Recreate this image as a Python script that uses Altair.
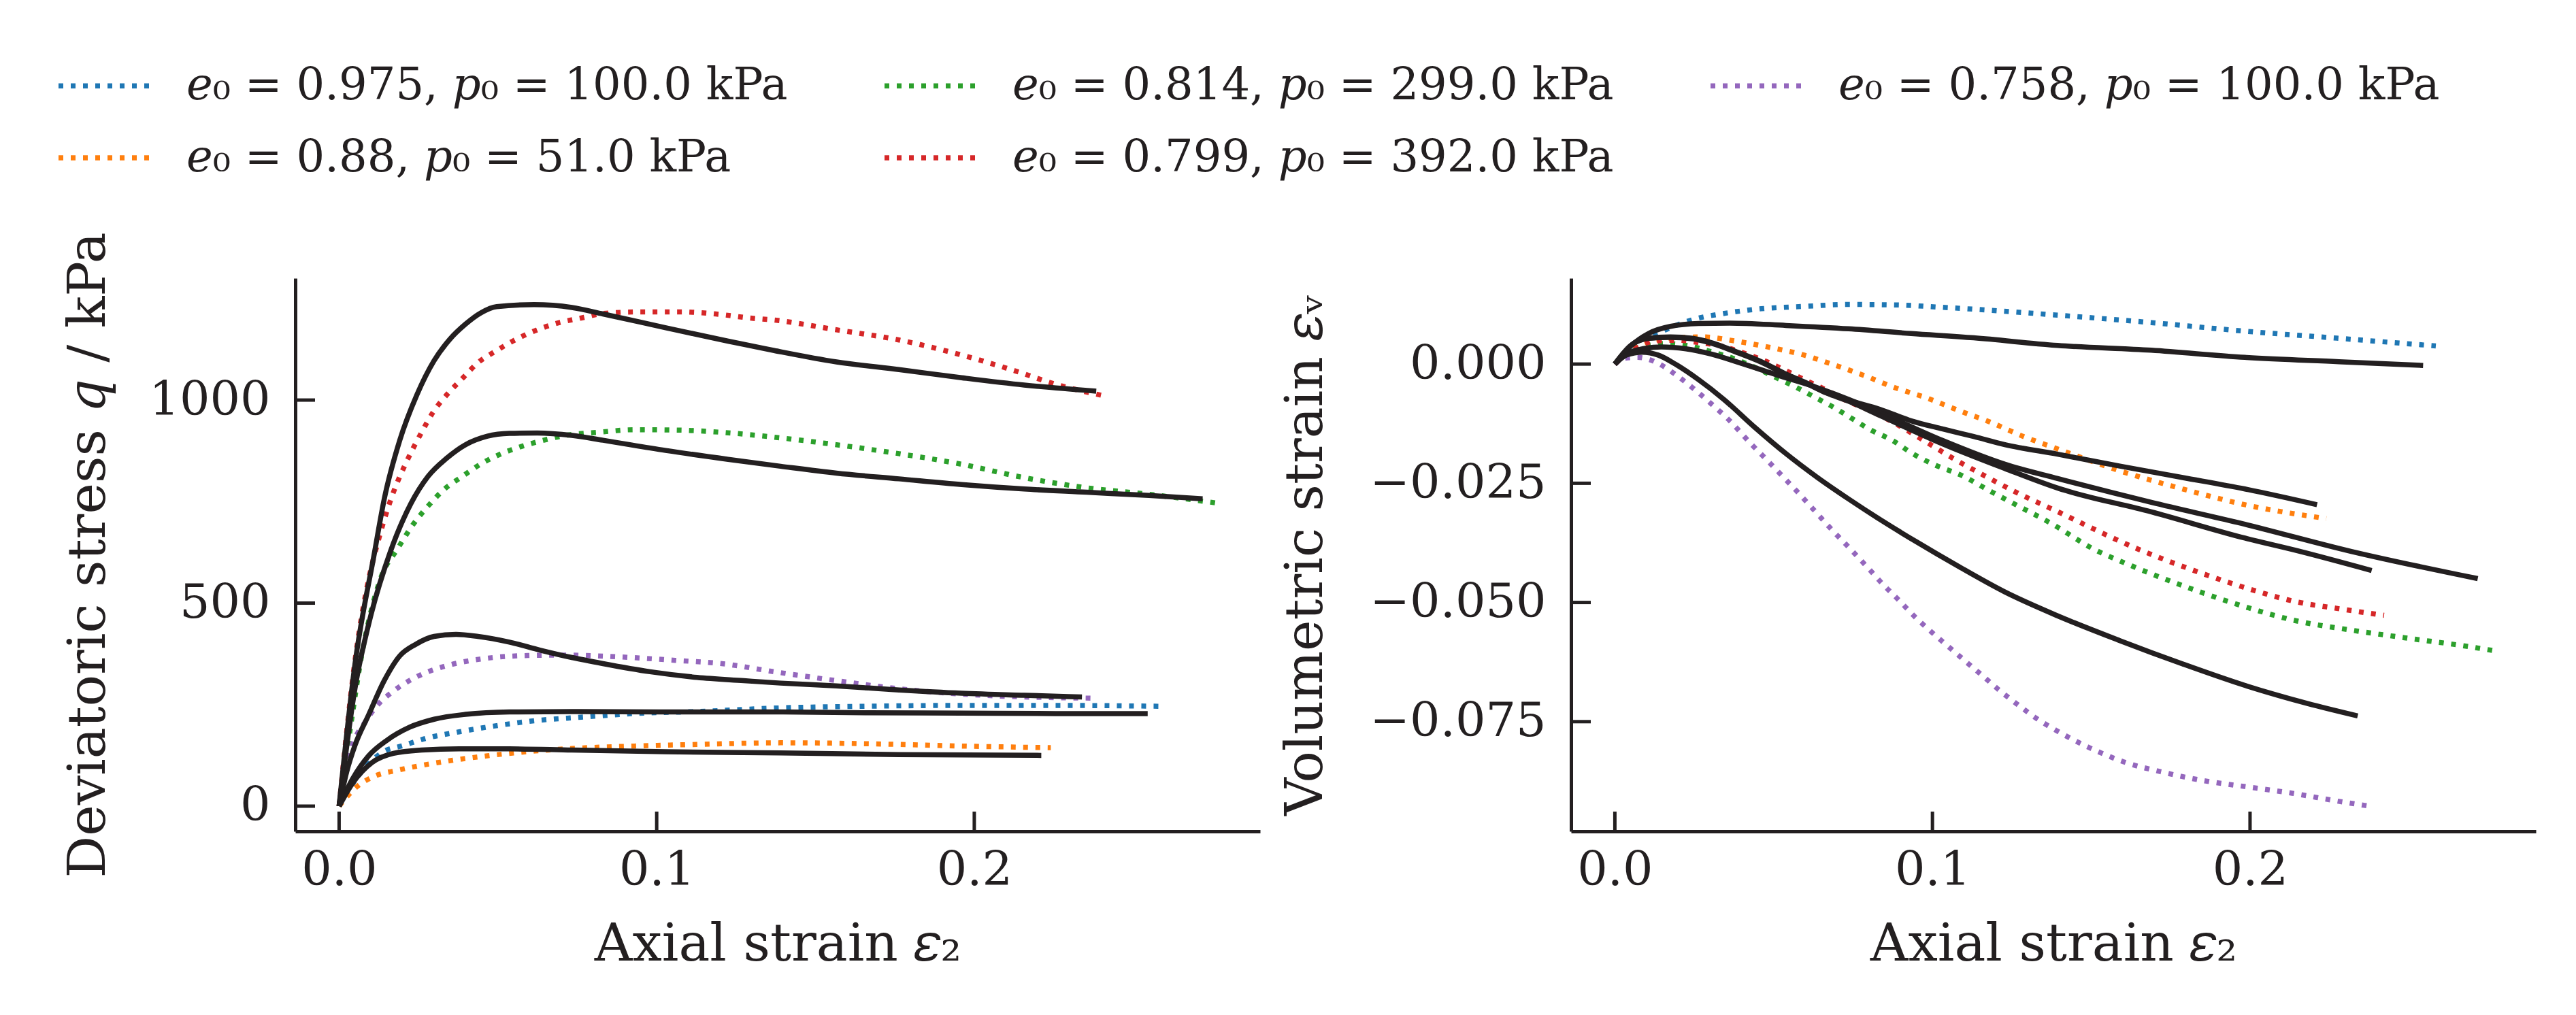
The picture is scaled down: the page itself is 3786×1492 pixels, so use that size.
import altair as alt
import pandas as pd

# ---------------- data ----------------
E0 = [0.975, 0.88, 0.814, 0.799, 0.758]
P0 = [100.0, 51.0, 299.0, 392.0, 100.0]
COLORS = ["#1f77b4", "#ff7f0e", "#2ca02c", "#d62728", "#9467bd"]

STRAIN_TICKS = [0.0, 0.1, 0.2]
Q_TICKS = [0, 500, 1000]
EV_TICKS = [0.0, -0.025, -0.05, -0.075]

# deviatoric stress q (kPa) vs axial strain: experiment (dotted) and model (solid)
Q_EXP_BLUE = [(0, 0), (0.004, 52), (0.0083, 96), (0.0142, 135), (0.0201, 149), (0.0269, 166), (0.0378, 183),
              (0.0486, 197), (0.0624, 211), (0.0762, 219), (0.093, 228), (0.1127, 233), (0.139, 242),
              (0.1665, 246), (0.196, 248), (0.2256, 248), (0.258, 246)]
Q_MOD_BLUE = [(0, 0), (0.0043, 68), (0.0093, 124), (0.0152, 163), (0.0221, 194), (0.0299, 214), (0.0398, 226),
              (0.0536, 232), (0.0733, 233), (0.1028, 232), (0.139, 232), (0.1665, 230), (0.196, 229),
              (0.2256, 228), (0.2546, 228)]
Q_EXP_ORANGE = [(0, 0), (0.0053, 46), (0.0112, 74), (0.0181, 88), (0.025, 99), (0.0358, 113), (0.0467, 124),
                (0.0605, 135), (0.0733, 142), (0.093, 148), (0.1127, 152), (0.139, 156), (0.1566, 155),
                (0.1763, 152), (0.196, 148), (0.2241, 144)]
Q_MOD_ORANGE = [(0, 0), (0.0043, 57), (0.0103, 107), (0.0171, 130), (0.026, 138), (0.0378, 141), (0.0536, 141),
                (0.0733, 138), (0.1028, 134), (0.139, 131), (0.1763, 127), (0.2211, 125)]
Q_EXP_GREEN = [(0, 0), (0.0035, 190), (0.0073, 380), (0.0107, 500), (0.0135, 570), (0.0181, 630), (0.0236, 697),
               (0.028, 739), (0.0329, 779), (0.0388, 812), (0.0447, 843), (0.0511, 868), (0.0575, 886),
               (0.0644, 901), (0.0713, 913), (0.0821, 921), (0.093, 927), (0.1068, 926), (0.1215, 920),
               (0.1353, 910), (0.1566, 890), (0.1763, 868), (0.196, 842), (0.2157, 809), (0.2354, 784),
               (0.255, 768), (0.2758, 747)]
Q_MOD_GREEN = [(0, 0), (0.005, 290), (0.01, 470), (0.0162, 628), (0.0226, 745), (0.028, 812), (0.0339, 857),
               (0.0398, 890), (0.0467, 911), (0.0536, 918), (0.0624, 919), (0.0733, 913), (0.0831, 901),
               (0.1028, 876), (0.1225, 854), (0.139, 837), (0.1566, 820), (0.1763, 806), (0.196, 792),
               (0.2157, 781), (0.2354, 773), (0.255, 765), (0.2719, 757)]
Q_EXP_RED = [(0, 0), (0.0053, 376), (0.0088, 540), (0.0122, 650), (0.0171, 773), (0.0211, 846), (0.026, 921),
             (0.0295, 969), (0.0339, 1013), (0.0388, 1053), (0.0437, 1092), (0.0496, 1122), (0.0556, 1149),
             (0.0624, 1173), (0.0694, 1191), (0.0762, 1202), (0.0831, 1213), (0.094, 1217), (0.1078, 1217),
             (0.1186, 1212), (0.1294, 1202), (0.137, 1197), (0.1566, 1173), (0.1763, 1148), (0.196, 1111),
             (0.2128, 1072), (0.2256, 1039), (0.2399, 1012)]
Q_MOD_RED = [(0, 0), (0.005, 350), (0.0112, 627), (0.0142, 756), (0.0191, 901), (0.0245, 1013), (0.0299, 1097),
             (0.0349, 1150), (0.0398, 1187), (0.0447, 1215), (0.0496, 1230), (0.0614, 1235), (0.0733, 1228),
             (0.0831, 1212), (0.1029, 1178), (0.1225, 1145), (0.137, 1122), (0.1566, 1094), (0.1763, 1075),
             (0.196, 1055), (0.2157, 1037), (0.2384, 1022)]
Q_EXP_PURPLE = [(0, 0), (0.003, 120), (0.0088, 214), (0.0132, 258), (0.0162, 278), (0.0221, 309), (0.028, 331),
                (0.0349, 348), (0.0418, 359), (0.0486, 366), (0.0595, 371), (0.0703, 372), (0.0812, 370),
                (0.092, 366), (0.1058, 359), (0.1205, 351), (0.137, 331), (0.1566, 309), (0.1763, 289),
                (0.196, 276), (0.2157, 269), (0.2367, 266)]
Q_MOD_PURPLE = [(0, 0), (0.0024, 85), (0.005, 150), (0.0093, 225), (0.0142, 309), (0.0191, 370), (0.024, 398),
                (0.0299, 418), (0.0368, 423), (0.0437, 418), (0.0536, 404), (0.0634, 384), (0.0733, 366),
                (0.0831, 351), (0.0979, 331), (0.1127, 317), (0.1274, 309), (0.139, 303), (0.1566, 296),
                (0.1763, 286), (0.196, 278), (0.2157, 273), (0.2339, 269)]

# volumetric strain vs axial strain
EV_EXP_BLUE = [(0, 0), (0.0047, 0.0035), (0.0146, 0.0068), (0.0244, 0.0093), (0.0352, 0.0107), (0.0461, 0.0116),
               (0.0598, 0.0121), (0.0736, 0.0125), (0.0884, 0.0124), (0.1031, 0.0119), (0.1179, 0.0113),
               (0.1386, 0.0103), (0.1689, 0.0087), (0.1984, 0.0069), (0.228, 0.0054), (0.2585, 0.0038)]
EV_MOD_BLUE = [(0, 0), (0.0047, 0.0036), (0.0106, 0.0064), (0.0175, 0.0079), (0.0264, 0.0085), (0.0362, 0.0086),
               (0.0539, 0.0081), (0.0736, 0.0074), (0.0933, 0.0064), (0.113, 0.0055), (0.1394, 0.0039),
               (0.1689, 0.0029), (0.1984, 0.0014), (0.228, 0.0005), (0.2545, -0.0003)]
EV_EXP_ORANGE = [(0, 0), (0.005, 0.003), (0.0146, 0.0052), (0.0274, 0.0057), (0.0382, 0.0048), (0.048, 0.0036),
                 (0.0589, 0.002), (0.0687, -0.0001), (0.0785, -0.0024), (0.0884, -0.005), (0.0982, -0.0071),
                 (0.1081, -0.0097), (0.1179, -0.0121), (0.1287, -0.0152), (0.1386, -0.0176), (0.159, -0.0224),
                 (0.1788, -0.0262), (0.1984, -0.0295), (0.224, -0.0324)]
EV_MOD_ORANGE = [(0, 0), (0.0052, 0.004), (0.0106, 0.0054), (0.0175, 0.0057), (0.0244, 0.0054), (0.0303, 0.0045),
                 (0.0382, 0.0026), (0.0461, 0.0005), (0.0539, -0.0021), (0.0598, -0.0038), (0.0667, -0.006),
                 (0.0736, -0.0076), (0.0835, -0.0095), (0.0933, -0.0119), (0.1031, -0.0136), (0.113, -0.0152),
                 (0.1228, -0.0169), (0.1394, -0.0189), (0.159, -0.0214), (0.1788, -0.0238), (0.1984, -0.0262),
                 (0.2211, -0.0295)]
EV_EXP_GREEN = [(0, 0), (0.0045, 0.0025), (0.0096, 0.0038), (0.0162, 0.0043), (0.0234, 0.0038), (0.0303, 0.0026),
                (0.0372, 0.0012), (0.0441, -0.0007), (0.05, -0.0026), (0.0569, -0.0048), (0.0628, -0.0069),
                (0.0687, -0.009), (0.0746, -0.0114), (0.0805, -0.0138), (0.0874, -0.016), (0.0933, -0.0186),
                (0.1002, -0.021), (0.109, -0.0233), (0.1189, -0.0269), (0.1277, -0.03), (0.1376, -0.0335),
                (0.1502, -0.0386), (0.163, -0.0424), (0.1797, -0.0467), (0.1965, -0.0505), (0.2142, -0.0538),
                (0.2309, -0.0557), (0.2486, -0.0574), (0.2663, -0.059), (0.2767, -0.0601)]
EV_MOD_GREEN = [(0, 0), (0.0037, 0.0021), (0.0096, 0.0033), (0.0146, 0.0036), (0.0224, 0.0032), (0.0303, 0.0021),
                (0.0382, 0.0005), (0.0461, -0.0012), (0.0539, -0.0029), (0.0618, -0.0045), (0.0697, -0.0064),
                (0.0776, -0.0085), (0.0835, -0.0102), (0.1031, -0.016), (0.1228, -0.021), (0.1394, -0.024),
                (0.1689, -0.029), (0.1984, -0.0336), (0.2319, -0.0393), (0.2717, -0.045)]
EV_EXP_RED = [(0, 0), (0.0057, 0.0029), (0.0124, 0.0048), (0.0195, 0.005), (0.0264, 0.0045), (0.0333, 0.0038),
              (0.0402, 0.0024), (0.0471, 0.0007), (0.0539, -0.0014), (0.0598, -0.0033), (0.0667, -0.0055),
              (0.0726, -0.0076), (0.0795, -0.0095), (0.0884, -0.0125), (0.0972, -0.016), (0.1071, -0.02),
              (0.1169, -0.0236), (0.1258, -0.0267), (0.1386, -0.0307), (0.164, -0.0386), (0.1807, -0.0429),
              (0.1975, -0.0467), (0.2142, -0.0498), (0.2289, -0.0514), (0.2422, -0.0527)]
EV_MOD_RED = [(0, 0), (0.0052, 0.004), (0.0106, 0.0054), (0.0175, 0.0056), (0.0244, 0.0053), (0.0303, 0.0044),
              (0.0382, 0.0025), (0.0461, 0.0004), (0.0539, -0.0022), (0.0598, -0.0039), (0.0667, -0.0061),
              (0.0736, -0.0078), (0.0835, -0.0108), (0.1031, -0.0167), (0.1228, -0.0219), (0.1394, -0.026),
              (0.1689, -0.031), (0.1984, -0.0365), (0.2152, -0.0392), (0.2383, -0.0433)]
EV_EXP_PURPLE = [(0, 0), (0.0027, 0.0012), (0.0072, 0.0014), (0.0106, 0.001), (0.0146, -0.0002), (0.0195, -0.0024),
                 (0.0254, -0.0055), (0.0303, -0.0083), (0.0362, -0.0119), (0.0431, -0.0169), (0.048, -0.0202),
                 (0.0529, -0.0236), (0.0579, -0.0271), (0.0628, -0.0307), (0.0677, -0.0343), (0.0746, -0.0391),
                 (0.0795, -0.0426), (0.0844, -0.0462), (0.0894, -0.0495), (0.0943, -0.0529), (0.0997, -0.0562),
                 (0.1051, -0.0593), (0.1105, -0.0624), (0.116, -0.0655), (0.1214, -0.0686), (0.1268, -0.0714),
                 (0.1327, -0.0743), (0.1386, -0.0767), (0.1512, -0.081), (0.161, -0.0836), (0.1719, -0.0855),
                 (0.1856, -0.0874), (0.1994, -0.0887), (0.2132, -0.09), (0.227, -0.0916), (0.2374, -0.0927)]
EV_MOD_PURPLE = [(0, 0), (0.0037, 0.0019), (0.0087, 0.0025), (0.0136, 0.0019), (0.0195, -0.0002), (0.0264, -0.0033),
                 (0.0343, -0.0074), (0.0441, -0.0133), (0.0539, -0.0188), (0.0638, -0.0238), (0.0736, -0.0283),
                 (0.0835, -0.0326), (0.095, -0.0373), (0.1081, -0.0424), (0.1228, -0.0478), (0.1394, -0.0528),
                 (0.159, -0.058), (0.1788, -0.0629), (0.1984, -0.0674), (0.2181, -0.0712), (0.2339, -0.0738)]

Q_EXP = [Q_EXP_BLUE, Q_EXP_ORANGE, Q_EXP_GREEN, Q_EXP_RED, Q_EXP_PURPLE]
Q_MOD = [Q_MOD_BLUE, Q_MOD_ORANGE, Q_MOD_GREEN, Q_MOD_RED, Q_MOD_PURPLE]
EV_EXP = [EV_EXP_BLUE, EV_EXP_ORANGE, EV_EXP_GREEN, EV_EXP_RED, EV_EXP_PURPLE]
EV_MOD = [EV_MOD_BLUE, EV_MOD_ORANGE, EV_MOD_GREEN, EV_MOD_RED, EV_MOD_PURPLE]

# ---------------- table ----------------
labels = [f"\U0001D452\u2080 = {e}, \U0001D45D\u2080 = {p} kPa" for e, p in zip(E0, P0)]

rows = []
for panel_name, exps, mods in (("q", Q_EXP, Q_MOD), ("ev", EV_EXP, EV_MOD)):
    for k, lab in enumerate(labels):
        for kind, series in (("exp", exps[k]), ("model", mods[k])):
            for i, (xv, yv) in enumerate(series):
                rows.append({"panel": panel_name, "label": lab, "kind": kind, "x": xv, "y": yv, "i": i})
df = pd.DataFrame(rows)

# ---------------- styling ----------------
FONT = "DejaVu Serif"
INK = "#231f20"
W, H = 1418, 813
TICK_LEN = 29
LW = 7.5
X_DOMAIN = [-0.0138, 0.2900]
Q_DOMAIN = [-62, 1300]
EV_DOMAIN = [-0.0980, 0.0180]

color_scale = alt.Scale(domain=labels, range=COLORS)
legend = alt.Legend(title=None, orient="none", legendX=-352, legendY=-355, columns=3,
                    symbolType="stroke", symbolSize=18496, symbolStrokeWidth=LW,
                    symbolDash=[7, 11], labelFont=FONT, labelFontSize=65.5, labelColor=INK,
                    labelOffset=48, columnPadding=127, rowPadding=-22, padding=0, labelLimit=3000)


def panel(name, ydomain, yvalues, yfmt, ytitle, title_x):
    base = alt.Chart(df).transform_filter(alt.datum.panel == name)
    x = alt.X("x:Q", scale=alt.Scale(domain=X_DOMAIN, nice=False, zero=False),
              axis=alt.Axis(values=STRAIN_TICKS, format=".1f", title="Axial strain \U0001D700\u2082",
                            ticks=False, labelPadding=23, titlePadding=36))
    y = alt.Y("y:Q", scale=alt.Scale(domain=ydomain, nice=False, zero=False),
              axis=alt.Axis(values=yvalues, format=yfmt, title=ytitle,
                            ticks=False, labelPadding=37, titleX=title_x))
    exp = base.transform_filter(alt.datum.kind == "exp").mark_line(
        strokeWidth=LW, strokeDash=[7, 11], strokeCap="butt", interpolate="monotone"
    ).encode(x=x, y=y, color=alt.Color("label:N", scale=color_scale, legend=legend), order="i:Q")
    mod = base.transform_filter(alt.datum.kind == "model").mark_line(
        strokeWidth=LW, color=INK, interpolate="monotone"
    ).encode(x=x, y=y, detail="label:N", order="i:Q")
    # inward-pointing tick marks at the tick values
    xticks = alt.Chart(pd.DataFrame({"x": STRAIN_TICKS})).mark_rule(color=INK, strokeWidth=5).encode(
        x=x, y=alt.value(H), y2=alt.value(H - TICK_LEN))
    yticks = alt.Chart(pd.DataFrame({"y": yvalues})).mark_rule(color=INK, strokeWidth=5).encode(
        y=y, x=alt.value(0), x2=alt.value(TICK_LEN))
    return alt.layer(exp, mod, xticks, yticks).properties(width=W, height=H)


left = panel("q", Q_DOMAIN, Q_TICKS, "d", "Deviatoric stress \U0001D45E / kPa", -265)
right = panel("ev", EV_DOMAIN, EV_TICKS, ".3f", "Volumetric strain \U0001D700\u1D65", -351)

chart = (
    alt.hconcat(left, right, spacing=27)
    .properties(padding={"left": 74, "top": 46, "right": 10, "bottom": 10})
    .configure_view(stroke=None)
    .configure_axis(labelFont=FONT, labelFontSize=70, titleFont=FONT, titleFontSize=77,
                    titleFontWeight="normal", labelColor=INK, titleColor=INK, labelLimit=1000,
                    domainColor=INK, domainWidth=5, grid=False)
)

chart.save("out.html", embed_options={"renderer": "svg", "actions": False})
